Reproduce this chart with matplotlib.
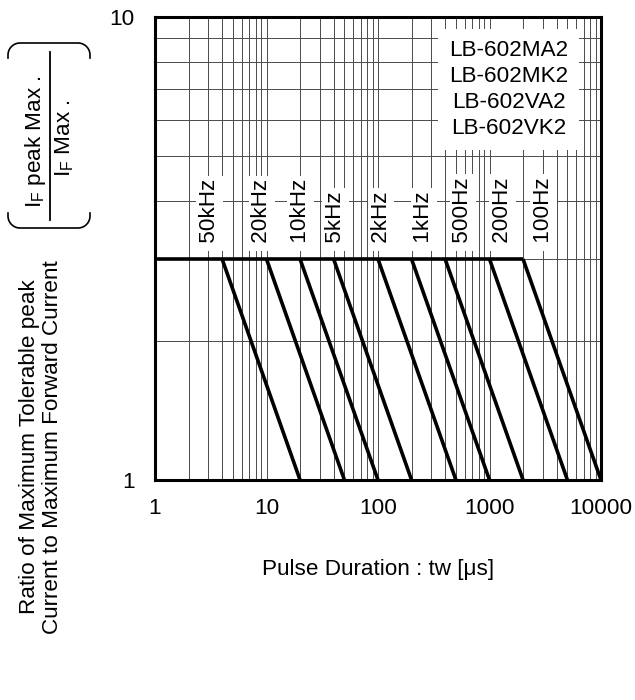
import numpy as np
import matplotlib
matplotlib.use("Agg")
import matplotlib.pyplot as plt
from matplotlib.lines import Line2D

plt.rcParams['font.family'] = ['Liberation Sans', 'DejaVu Sans']
plt.rcParams['mathtext.fontset'] = 'custom'
plt.rcParams['mathtext.rm'] = 'Liberation Sans'

# ---- data ----
freq_labels = ['50kHz', '20kHz', '10kHz', '5kHz', '2kHz', '1kHz', '500Hz', '200Hz', '100Hz']
tw_start = [4, 10, 20, 40, 100, 200, 400, 1000, 2000]      # pulse width where derating starts (ratio = 3)
tw_end = [20, 50, 100, 200, 500, 1000, 2000, 5000, 10000]  # pulse width where ratio reaches 1
ratio_max = 3.0
ratio_min = 1.0
label_tw = [3.07, 9.1, 20.1, 41.5, 107, 258, 575, 1307, 3055]
label_ratio = 3.16
models = ['LB-602MA2', 'LB-602MK2', 'LB-602VA2', 'LB-602VK2']
xticks = [1, 10, 100, 1000, 10000]
xticklabels = ['1', '10', '100', '1000', '10000']
yticks = [1, 10]
yticklabels = ['1', '10']

W, H = 635, 700
fig = plt.figure(figsize=(W / 100, H / 100), dpi=100)
L, R, T, B = 155, 601, 17, 480
ax = fig.add_axes([L / W, 1 - B / H, (R - L) / W, (B - T) / H])
ax.set_xscale('log')
ax.set_yscale('log')
ax.set_xlim(1, 10000)
ax.set_ylim(1, 10)

ax.set_axisbelow(True)
ax.grid(which='both', axis='both', color='#4a4a4a', linewidth=0.7)

# horizontal plateau
ax.plot([1, tw_start[-1]], [ratio_max, ratio_max], color='black', lw=2.6, solid_capstyle='butt', zorder=4)
for s, e in zip(tw_start, tw_end):
    ax.plot([s, e], [ratio_max, ratio_min], color='black', lw=2.6, solid_capstyle='butt', zorder=4)

for lab, lx in zip(freq_labels, label_tw):
    ax.text(lx, label_ratio, ' ' + lab, rotation=90, ha='center', va='bottom', fontsize=16.2,
            bbox=dict(boxstyle='square,pad=0.12', facecolor='white', edgecolor='none'), zorder=5)

ax.text(0.7926, 0.8435, '\n'.join(models), transform=ax.transAxes, ha='center', va='center',
        fontsize=16.2, linespacing=1.3, multialignment='center',
        bbox=dict(boxstyle='square,pad=0.5', facecolor='white', edgecolor='none'), zorder=5)

ax.set_xticks(xticks)
ax.set_xticklabels(xticklabels)
ax.set_yticks(yticks)
ax.set_yticklabels(yticklabels)
ax.minorticks_on()
ax.tick_params(which='both', length=0, labelsize=16.2)
ax.tick_params(axis='x', pad=13)
ax.tick_params(axis='y', pad=14.5)
ax.xaxis.set_minor_formatter(matplotlib.ticker.NullFormatter())
ax.yaxis.set_minor_formatter(matplotlib.ticker.NullFormatter())
for sp in ax.spines.values():
    sp.set_linewidth(2.2)

ax.set_xlabel('Pulse Duration : tw [μs]', fontsize=16.2, labelpad=29)

def fx(x):
    return x / W

def fy(y):
    return 1 - y / H

# two-line y label
fig.text(fx(41), fy(447), 'Ratio of Maximum Tolerable peak\nCurrent to Maximum Forward Current',
         rotation=90, ha='center', va='center', fontsize=16.2, linespacing=1.13)

# fraction in brackets
fig.text(fx(36), fy(142), r'I$_\mathregular{F}$ peak Max .', rotation=90, ha='center', va='center', fontsize=16.2)
fig.text(fx(65), fy(138.5), r'I$_\mathregular{F}$ Max .', rotation=90, ha='center', va='center', fontsize=16.2)
fig.add_artist(Line2D([fx(50), fx(50)], [fy(52), fy(220)], color='black', lw=1.3, transform=fig.transFigure))

r = 12
def bracket(y_flat, y_end, up):
    xs, ys = [], []
    cy = y_flat + r if up else y_flat - r
    th = np.linspace(np.pi, np.pi / 2, 20)
    xs += [8]
    ys += [y_end]
    for t in th:
        xs.append(8 + r + r * np.cos(t))
        ys.append(cy - r * np.sin(t) if up else cy + r * np.sin(t))
    th2 = np.linspace(np.pi / 2, 0, 20)
    for t in th2:
        xs.append(90 - r + r * np.cos(t))
        ys.append(cy - r * np.sin(t) if up else cy + r * np.sin(t))
    xs.append(90)
    ys.append(y_end)
    fig.add_artist(Line2D([fx(v) for v in xs], [fy(v) for v in ys], color='black', lw=1.2,
                          transform=fig.transFigure))

bracket(43, 58, True)
bracket(228, 213, False)

fig.savefig('out.png', dpi=100)
